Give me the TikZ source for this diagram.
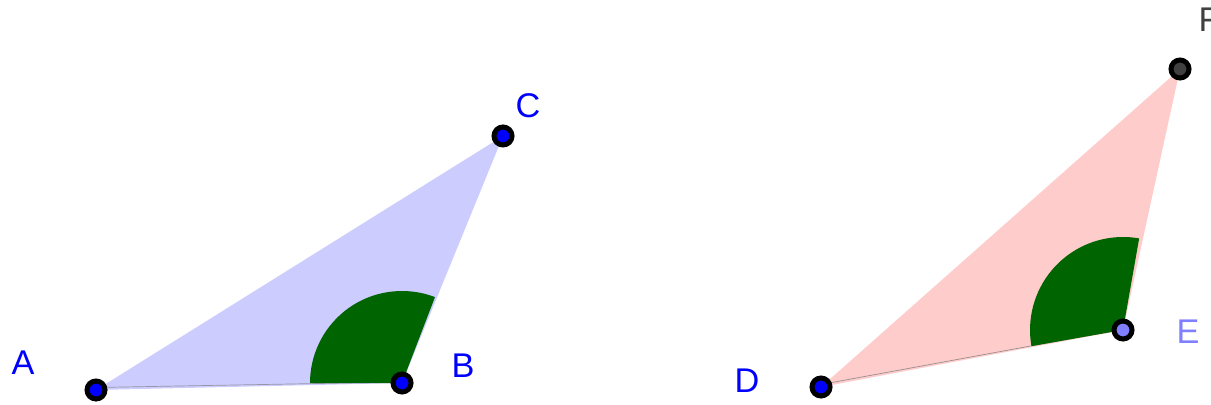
\documentclass[tikz,border=0pt]{standalone}
\usepackage{fontspec}
\setsansfont{Liberation Sans}
\usetikzlibrary{calc}

\definecolor{lilac}{HTML}{CCCCFF}
\definecolor{rosy}{HTML}{FFCCCC}
\definecolor{darkgreen}{HTML}{006400}
\definecolor{paleblue}{HTML}{8080FF}
\definecolor{darkgraypt}{HTML}{404040}

\begin{document}
\begin{tikzpicture}[
                    ptnode/.style={circle, draw=black, line width=0.1cm, minimum size=0.36cm, inner sep=0pt},
                    lbl/.style={font=\sffamily\fontsize{19.5}{22}\selectfont, inner sep=0pt},
                    anglefill/.style={fill=darkgreen},
                    thinedge/.style={line width=0.4pt}
                  ]
                  \useasboundingbox (0,0) rectangle (24.22,8.08);
                  % left triangle
                  \coordinate (A) at (1.92,0.28);
                  \coordinate (B) at (8.04,0.42);
                  \coordinate (C) at (10.06,5.36);
                  \fill[lilac] (A) -- (B) -- (C) -- cycle;
                  \draw[thinedge, gray!70!lilac] ($(A)+(0,0.05)$) -- ($(B)+(0,0.02)$);
                  \fill[anglefill] (B) -- ++(69:1.84) arc[start angle=69, end angle=180, radius=1.84] -- cycle;
                  % right triangle
                  \coordinate (D) at (16.42,0.34);
                  \coordinate (E) at (22.46,1.48);
                  \coordinate (F) at (23.60,6.70);
                  \fill[rosy] (D) -- (E) -- (F) -- cycle;
                  \draw[thinedge, gray!80!rosy] ($(D)+(0,0.05)$) -- ($(E)+(0,0.02)$);
                  \fill[anglefill] (E) -- ++(80:1.86) arc[start angle=80, end angle=190, radius=1.86] -- cycle;
                  % points
                  \node[ptnode, fill=blue] (pA) at (A) {};
                  \node[ptnode, fill=blue] (pB) at (B) {};
                  \node[ptnode, fill=blue] (pC) at (C) {};
                  \node[ptnode, fill=blue] (pD) at (D) {};
                  \node[ptnode, fill=paleblue] (pE) at (E) {};
                  \node[ptnode, fill=darkgraypt] (pF) at (F) {};
                  % labels
                  \node[lbl, text=blue] (lA) at (0.46,0.82) {A};
                  \node[lbl, text=blue] (lB) at (9.26,0.76) {B};
                  \node[lbl, text=blue] (lC) at (10.56,5.96) {C};
                  \node[lbl, text=blue] (lD) at (14.94,0.46) {D};
                  \node[lbl, text=paleblue] (lE) at (23.76,1.44) {E};
                  \node[lbl, text=darkgraypt] (lF) at (24.18,7.68) {F};
                \end{tikzpicture}
\end{document}
